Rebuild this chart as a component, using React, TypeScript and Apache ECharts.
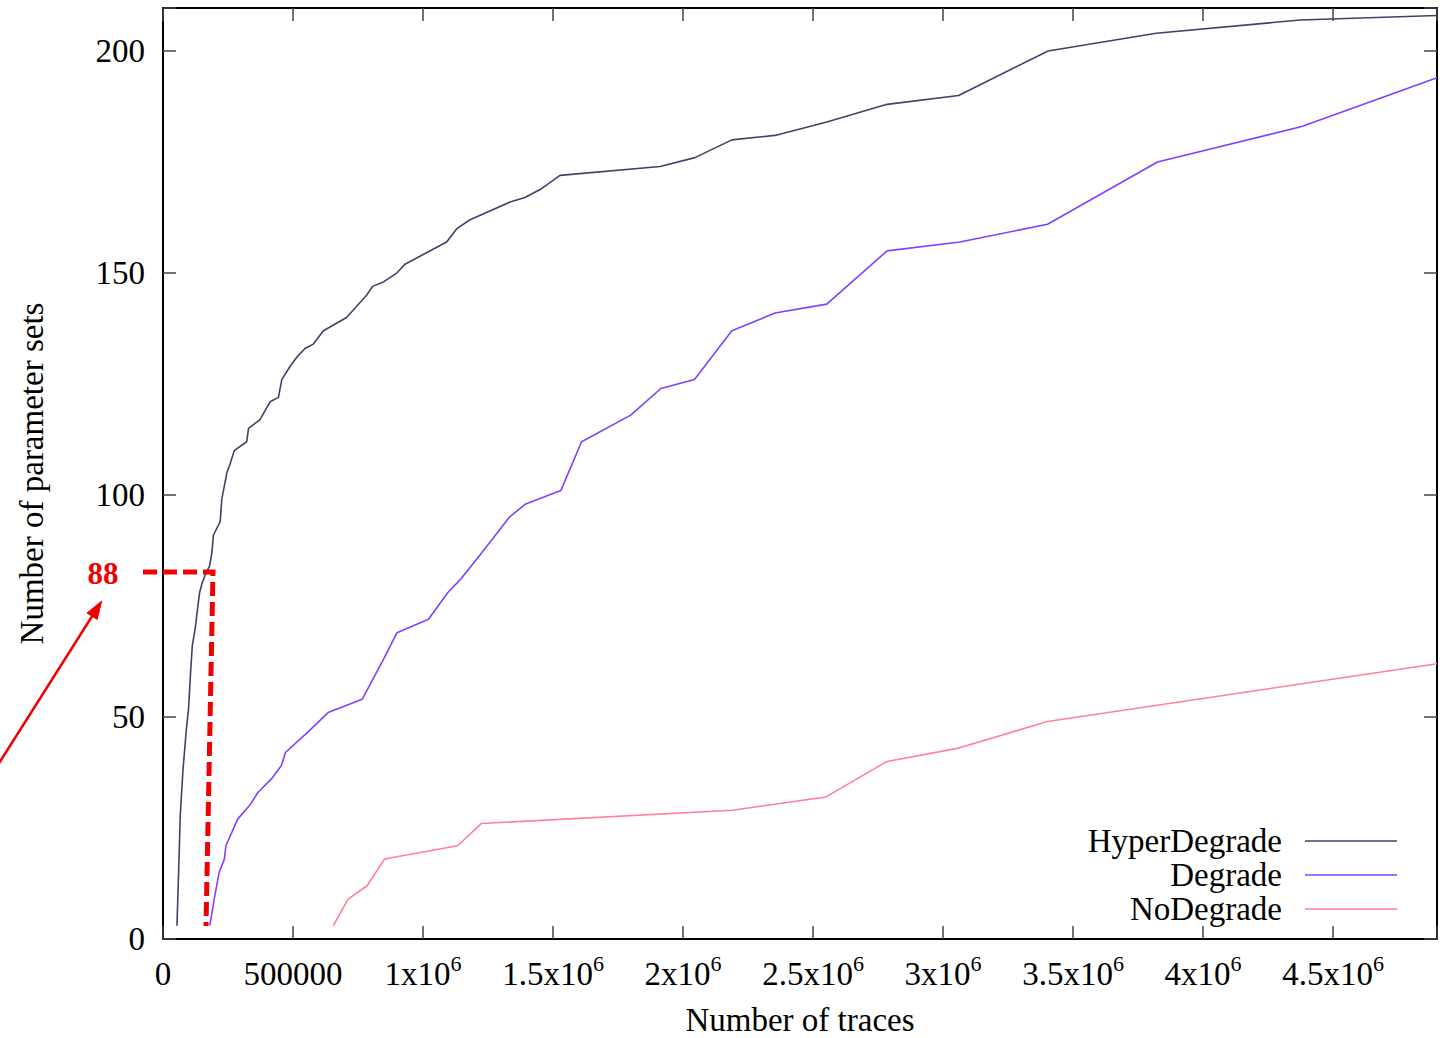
import React, { useEffect, useRef } from "react";
import * as echarts from "echarts";

const FONT = "Liberation Serif";

const SERIES_NAMES = ["HyperDegrade", "Degrade", "NoDegrade"];
const SERIES_COLORS = ["#40406a", "#8040ff", "#ff8096"];

const hyperX = [
  53700, 60000, 66500, 76700, 89500, 98500, 105000, 112600, 124000, 130000,
  140700, 149600, 162000, 179000, 188000, 194000, 220000, 226000, 245600, 258000,
  274000, 322000, 329000, 373000, 412000, 444000, 457000, 489000, 514000, 546000,
  578000, 617000, 706000, 783000, 806000, 848000, 899000, 931000, 1091000, 1130000,
  1181000, 1335000, 1392000, 1456000, 1527000, 1912000, 2046000, 2188000, 2354000, 2553000,
  2785000, 3060000, 3404000, 3820000, 4375000, 4900000,
];
const hyperY = [
  3, 15, 28, 38, 47, 52, 59, 66, 70, 73,
  78, 80, 82, 84, 87, 91, 94, 99, 105, 107,
  110, 112, 115, 117, 121, 122, 126, 129, 131, 133,
  134, 137, 140, 145, 147, 148, 150, 152, 157, 160,
  162, 166, 167, 169, 172, 174, 176, 180, 181, 184,
  188, 190, 200, 204, 207, 208,
];

const degradeX = [
  180000, 197000, 216000, 236000, 242000, 287000, 332000, 365000, 416000, 455000,
  471000, 564000, 635000, 766000, 848000, 900000, 1021000, 1095000, 1144000, 1226000,
  1332000, 1395000, 1530000, 1610000, 1799000, 1915000, 2044000, 2188000, 2354000, 2553000,
  2785000, 3065000, 3402000, 3825000, 4380000, 4900000,
];
const degradeY = [
  3, 9, 15, 18, 21, 27, 30, 33, 36, 39,
  42, 47, 51, 54, 63, 69, 72, 78, 81, 87,
  95, 98, 101, 112, 118, 124, 126, 137, 141, 143,
  155, 157, 161, 175, 183, 194,
];

const noDegradeX = [
  655000, 712000, 785000, 852000, 1133000, 1224000, 2190000, 2550000, 2785000, 3060000,
  3402000, 4900000,
];
const noDegradeY = [3, 9, 12, 18, 21, 26, 29, 32, 40, 43, 49, 62];

const X_TICK_LABELS = [
  "0", "500000", "1x10^6", "1.5x10^6", "2x10^6", "2.5x10^6",
  "3x10^6", "3.5x10^6", "4x10^6", "4.5x10^6",
];
const Y_TICK_LABELS = ["0", "50", "100", "150", "200"];

const X_MAX = 4900000;
const X_INTERVAL = 500000;
const Y_MAX = 209.7;
const Y_INTERVAL = 50;

function richLabel(s: string): string {
  const parts = s.split("^");
  if (parts.length === 2) return `{b|${parts[0]}}{s|${parts[1]}}`;
  return `{b|${s}}`;
}

export default function App() {
  const ref = useRef<HTMLDivElement>(null);

  useEffect(() => {
    document.body.style.margin = "0";
    if (!ref.current) return;
    const chart = echarts.init(ref.current, null, { renderer: "svg" });

    const axisLine = { show: true, onZero: false, lineStyle: { color: "#000", width: 2 } };
    const axisTick = { show: true, inside: true, length: 13, lineStyle: { color: "#444", width: 1.5 } };

    const seriesData = [
      [hyperX, hyperY],
      [degradeX, degradeY],
      [noDegradeX, noDegradeY],
    ];

    const red = "#f00000";
    const tip = [101.7, 601];
    const from = [-10, 777.5];
    const dx = tip[0] - from[0];
    const dy = tip[1] - from[1];
    const len = Math.sqrt(dx * dx + dy * dy);
    const ux = dx / len;
    const uy = dy / len;
    const headLen = 18;
    const halfW = 6;
    const bx = tip[0] - ux * headLen;
    const by = tip[1] - uy * headLen;

    const option: any = {
      animation: false,
      backgroundColor: "#fff",
      grid: { left: 163, right: 11, top: 8, bottom: 99, containLabel: false, outerBoundsMode: "none" },
      legend: SERIES_NAMES.map((n, i) => ({
        data: [n],
        right: 51,
        top: 824 + 34 * i,
        orient: "horizontal",
        align: "right",
        icon: "rect",
        itemWidth: 92,
        itemHeight: 1.6,
        padding: 0,
        selectedMode: false,
        textStyle: { fontFamily: FONT, fontSize: 33, color: "#000", lineHeight: 34, padding: [0, 18, 0, 0] },
      })),
      xAxis: [
        {
          type: "value",
          position: "bottom",
          min: 0,
          max: X_MAX,
          interval: X_INTERVAL,
          axisLine,
          axisTick,
          splitLine: { show: false },
          name: "Number of traces",
          nameLocation: "middle",
          nameGap: 64,
          nameTextStyle: { fontFamily: FONT, fontSize: 33, color: "#000", lineHeight: 34 },
          axisLabel: {
            margin: 13,
            fontFamily: FONT,
            fontSize: 33,
            color: "#000",
            lineHeight: 44,
            formatter: (v: number) => {
              const idx = Math.round(v / X_INTERVAL);
              if (Math.abs(idx * X_INTERVAL - v) > 1 || idx >= X_TICK_LABELS.length) return "";
              return richLabel(X_TICK_LABELS[idx]);
            },
            rich: {
              b: { fontFamily: FONT, fontSize: 33, color: "#000", lineHeight: 44 },
              s: { fontFamily: FONT, fontSize: 22, color: "#000", lineHeight: 22, verticalAlign: "top" },
            },
          },
        },
        {
          type: "value",
          position: "top",
          min: 0,
          max: X_MAX,
          interval: X_INTERVAL,
          axisLine,
          axisTick,
          axisLabel: { show: false },
          splitLine: { show: false },
        },
      ],
      yAxis: [
        {
          type: "value",
          position: "left",
          min: 0,
          max: Y_MAX,
          interval: Y_INTERVAL,
          axisLine,
          axisTick,
          splitLine: { show: false },
          name: "Number of parameter sets",
          nameLocation: "middle",
          nameGap: 115,
          nameTextStyle: { fontFamily: FONT, fontSize: 33, color: "#000" },
          axisLabel: {
            margin: 18,
            fontFamily: FONT,
            fontSize: 33,
            color: "#000",
            formatter: (v: number) => {
              const idx = Math.round(v / Y_INTERVAL);
              if (Math.abs(idx * Y_INTERVAL - v) > 1e-6 || idx >= Y_TICK_LABELS.length) return "";
              return Y_TICK_LABELS[idx];
            },
          },
        },
        {
          type: "value",
          position: "right",
          min: 0,
          max: Y_MAX,
          interval: Y_INTERVAL,
          axisLine,
          axisTick,
          axisLabel: { show: false },
          splitLine: { show: false },
        },
      ],
      series: SERIES_NAMES.map((n, i) => ({
        name: n,
        type: "line",
        xAxisIndex: 0,
        yAxisIndex: 0,
        symbol: "none",
        color: SERIES_COLORS[i],
        lineStyle: { color: SERIES_COLORS[i], width: 1.6 },
        itemStyle: { color: SERIES_COLORS[i] },
        data: seriesData[i][0].map((x, j) => [x, seriesData[i][1][j]]),
      })),
      graphic: [
        {
          type: "polyline",
          z: 100,
          shape: { points: [[143, 572], [213, 572], [206, 926]] },
          style: { stroke: red, lineWidth: 5, lineDash: [14, 6], fill: null },
        },
        {
          type: "text",
          z: 100,
          x: 103,
          y: 573,
          style: {
            text: "88",
            fill: red,
            font: `bold 31px "${FONT}"`,
            textAlign: "center",
            textVerticalAlign: "middle",
          },
        },
        {
          type: "line",
          z: 100,
          shape: { x1: from[0], y1: from[1], x2: bx, y2: by },
          style: { stroke: red, lineWidth: 2.5 },
        },
        {
          type: "polygon",
          z: 100,
          shape: {
            points: [
              [tip[0], tip[1]],
              [bx + uy * halfW, by - ux * halfW],
              [bx - uy * halfW, by + ux * halfW],
            ],
          },
          style: { fill: red, stroke: red, lineWidth: 1 },
        },
      ],
    };

    chart.setOption(option);
    return () => chart.dispose();
  }, []);

  return (
    <div
      ref={ref}
      style={{ position: "fixed", left: 0, top: 0, width: 1448, height: 1038, background: "#fff" }}
    />
  );
}
